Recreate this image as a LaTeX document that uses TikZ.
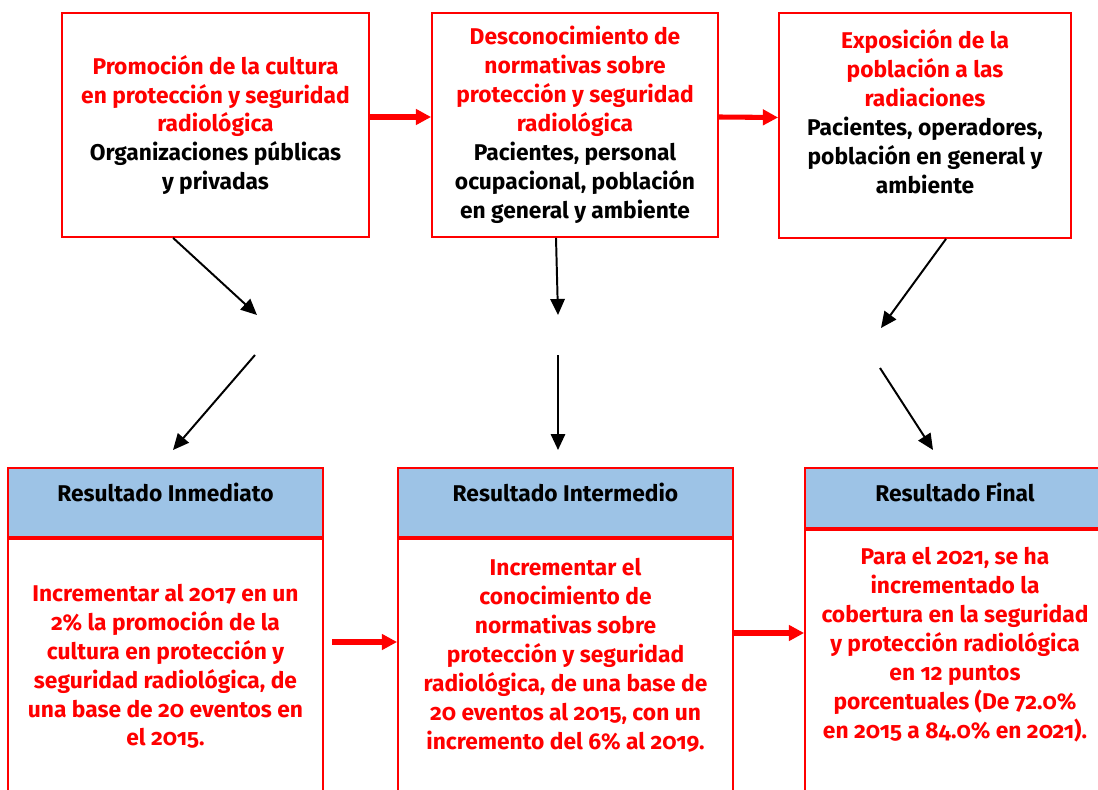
\documentclass[tikz,border=0pt]{standalone}
\usepackage{fontspec}
\setmainfont{Fira Sans}[Numbers=OldStyle]
\usetikzlibrary{arrows.meta, positioning}
\definecolor{marcoRed}{RGB}{255, 0, 0}
\definecolor{headBlue}{RGB}{157, 195, 230}
\tikzset{
  mainbox/.style={
    rectangle, draw=marcoRed, line width=1.3pt,
    fill=white, align=center,
    font=\bfseries\fontsize{16.2}{20.6}\selectfont, inner sep=4pt
  },
  headbox/.style={
    rectangle, draw=marcoRed, line width=1.1pt,
    fill=headBlue, align=center,
    font=\bfseries\fontsize{16.2}{20.6}\selectfont
  },
  bodybox/.style={
    rectangle, draw=marcoRed, line width=1.3pt,
    fill=white, align=center, text=marcoRed,
    font=\bfseries\fontsize{16.2}{20.6}\selectfont,
    text depth=4cm
  },
  redarrow/.style={-{Triangle[length=0.38cm, width=0.38cm]}, line width=3.6pt, color=marcoRed},
  blackarrow/.style={-{Triangle[length=0.4cm, width=0.36cm]}, line width=1.4pt, color=black}
}

\begin{document}
\begin{tikzpicture}

\useasboundingbox (0,0) rectangle (27.45,-19.75);

\def\topY{-3.125}
\def\headY{-12.5625}

%% TOP ROW
\node[mainbox, minimum width=7.675cm, minimum height=5.6cm] (promocion) at (5.3875, \topY) {
  \textcolor{marcoRed}{Promoción de la cultura}\\
  \textcolor{marcoRed}{en protección y seguridad}\\
  \textcolor{marcoRed}{radiológica}\\
  Organizaciones públicas\\
  y privadas
};
\node[mainbox, minimum width=7.15cm, minimum height=5.6cm] (desconoc) at (14.375, \topY) {
  \textcolor{marcoRed}{Desconocimiento de}\\
  \textcolor{marcoRed}{normativas sobre}\\
  \textcolor{marcoRed}{protección y seguridad}\\
  \textcolor{marcoRed}{radiológica}\\
  Pacientes, personal\\
  ocupacional, población\\
  en general y ambiente
};
\node[mainbox, minimum width=7.3cm, minimum height=5.625cm, text depth=0.7cm] (exposicion) at (23.125, -3.1375) {
  \textcolor{marcoRed}{Exposición de la}\\
  \textcolor{marcoRed}{población a las}\\
  \textcolor{marcoRed}{radiaciones}\\
  Pacientes, operadores,\\
  población en general y\\
  ambiente
};

%% RESULT HEADERS
\node[headbox, minimum width=7.875cm, minimum height=1.725cm, text depth=0.5cm] (inmHead) at (4.1375, \headY) {Resultado Inmediato};
\node[headbox, minimum width=8.375cm, minimum height=1.725cm, text depth=0.5cm] (intHead) at (14.1375, \headY) {Resultado Intermedio};
\node[headbox, minimum width=7.5cm, minimum height=1.5cm, text depth=0.3cm] (finHead) at (23.875, -12.45) {Resultado Final};

%% RESULT BODIES
\node[bodybox, below=0pt of inmHead, minimum width=7.875cm, inner ysep=1.13cm] (inmBody) {
  Incrementar al 2017 en un\\
  2\% la promoción de la\\
  cultura en protección y\\
  seguridad radiológica, de\\
  una base de 20 eventos en\\
  el 2015.
};
\node[bodybox, below=0pt of intHead, minimum width=8.375cm, inner ysep=0.5cm] (intBody) {
  Incrementar el\\
  conocimiento de\\
  normativas sobre\\
  protección y seguridad\\
  radiológica, de una base de\\
  20 eventos al 2015, con un\\
  incremento del 6\% al 2019.
};
\node[bodybox, below=0pt of finHead, minimum width=7.5cm, inner ysep=0.45cm] (finBody) {
  Para el 2021, se ha\\
  incrementado la\\
  cobertura en la seguridad\\
  y protección radiológica\\
  en 12 puntos\\
  porcentuales (De 72.0\%\\
  en 2015 a 84.0\% en 2021).
};

%% FREE ARROW ENDS
\coordinate (a1) at (6.425, -7.875);
\coordinate (a2) at (6.375, -8.875);
\coordinate (a3) at (4.325, -11.25);
\coordinate (b1) at (13.95, -7.875);
\coordinate (b2) at (13.95, -8.875);
\coordinate (b3) at (13.95, -11.25);
\coordinate (c1) at (22.025, -8.2);
\coordinate (c2) at (22.0, -9.2);
\coordinate (c3) at (23.325, -11.25);
\coordinate (r1) at (8.3, -16.05);
\coordinate (r2) at (0, -15.825);

%% ARROWS
% top row
\draw[redarrow] ([yshift=0.2cm]promocion.east) -- ([yshift=0.2cm]desconoc.west);
\draw[redarrow] ([yshift=0.2cm]desconoc.east) -- ([yshift=0.2cm]exposicion.west);

% down to results
\draw[blackarrow] ([xshift=-1.06cm]promocion.south) -- (a1);
\draw[blackarrow] (a2) -- (a3);
\draw[blackarrow] ([xshift=-0.475cm]desconoc.south) -- (b1);
\draw[blackarrow] (b2) -- (b3);
\draw[blackarrow] ([xshift=0.525cm]exposicion.south) -- (c1);
\draw[blackarrow] (c2) -- (c3);

% results row
\draw[redarrow] (r1) -- (r1 -| intBody.west);
\draw[redarrow] (intBody.east |- r2) -- (finBody.west |- r2);

\end{tikzpicture}
\end{document}
